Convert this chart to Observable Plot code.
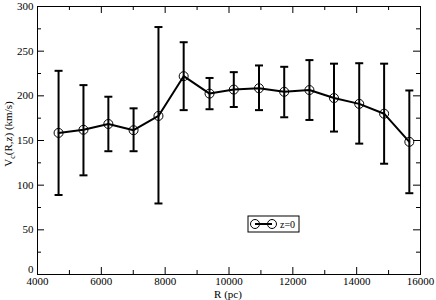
<!DOCTYPE html>
<html><head><meta charset="utf-8">
<script src="https://cdn.jsdelivr.net/npm/d3@7"></script>
<script src="https://cdn.jsdelivr.net/npm/@observablehq/plot@0.6"></script>
<style>body{margin:0;background:#fff} svg text{font-family:"Liberation Serif",serif !important;}</style>
</head><body><div id="chart"></div>
<script>
const R   = [4660, 5440, 6220, 7010, 7790, 8580, 9390, 10150, 10940, 11730, 12520, 13290, 14080, 14860, 15650];
const Vc  = [158.5, 162, 168.5, 161.5, 177.5, 222, 202.5, 207, 208.5, 204.5, 206.5, 197.5, 191, 180, 148.5];
const Vhi = [228, 212, 199, 186, 277, 260, 220, 226.5, 234, 232.5, 240, 236, 236.5, 236, 206];
const Vlo = [89, 111, 138, 138, 79.5, 184, 185, 187.5, 184, 176, 173, 160, 146.5, 124, 91];
const xMajor = [4000, 6000, 8000, 10000, 12000, 14000, 16000];
const xMinor = [5000, 7000, 9000, 11000, 13000, 15000];
const yMajor = [0, 50, 100, 150, 200, 250, 300];
const yMinor = [25, 75, 125, 175, 225, 275];
const seriesLabel = "z=0";
const xLabel = "R (pc)";

const data = R.map((r, i) => ({r, v: Vc[i], hi: Vhi[i], lo: Vlo[i]}));

const W = 436, H = 300, mL = 37, mR = 16, mT = 6, mB = 26;
const fh = H - mT - mB, fw = W - mL - mR;
const capSymbol = {draw(ctx, size) { const w = Math.sqrt(size / Math.PI); ctx.moveTo(-w, 0); ctx.lineTo(w, 0); }};

const chart = Plot.plot({
  width: W, height: H,
  marginLeft: mL, marginRight: mR, marginTop: mT, marginBottom: mB,
  style: {fontFamily: "Liberation Serif", fontSize: "11px", color: "#000", background: "#fff"},
  x: {domain: [4000, 16000]},
  y: {domain: [0, 300]},
  marks: [
    Plot.tickX(xMajor, {x: d => d, insetTop: fh - 7, stroke: "#000"}),
    Plot.tickX(xMajor, {x: d => d, insetBottom: fh - 7, stroke: "#000"}),
    Plot.tickX(xMinor, {x: d => d, insetTop: fh - 4, stroke: "#000"}),
    Plot.tickX(xMinor, {x: d => d, insetBottom: fh - 4, stroke: "#000"}),
    Plot.tickY(yMajor, {y: d => d, insetRight: fw - 7, stroke: "#000"}),
    Plot.tickY(yMajor, {y: d => d, insetLeft: fw - 7, stroke: "#000"}),
    Plot.tickY(yMinor, {y: d => d, insetRight: fw - 4, stroke: "#000"}),
    Plot.tickY(yMinor, {y: d => d, insetLeft: fw - 4, stroke: "#000"}),
    Plot.axisX(xMajor, {tickSize: 0, tickPadding: 3, label: null, fill: "#000", tickFormat: d3.format("d")}),
    Plot.axisY(yMajor.slice(1), {tickSize: 0, tickPadding: 4, label: null, fill: "#000", tickFormat: d3.format("d")}),
    Plot.axisY(yMajor.slice(0, 1), {tickSize: 0, tickPadding: 4, label: null, fill: "#000", tickFormat: d3.format("d"), dy: -5}),
    Plot.frame({stroke: "#000", strokeWidth: 1}),
    Plot.ruleX(data, {x: "r", y1: "lo", y2: "hi", stroke: "#000", strokeWidth: 2}),
    Plot.dot(data, {x: "r", y: "hi", symbol: capSymbol, r: 4, stroke: "#000", strokeWidth: 2}),
    Plot.dot(data, {x: "r", y: "lo", symbol: capSymbol, r: 4, stroke: "#000", strokeWidth: 2}),
    Plot.line(data, {x: "r", y: "v", stroke: "#000", strokeWidth: 2}),
    Plot.dot(data, {x: "r", y: "v", r: 4.5, stroke: "#000", strokeWidth: 1, fill: "none"})
  ]
});
document.getElementById("chart").appendChild(chart);

const svg = d3.select(chart);
const ff = "Liberation Serif";
svg.append("text").attr("x", 228).attr("y", 297.5).attr("text-anchor", "middle")
  .attr("font-family", ff).attr("font-size", 11).attr("fill", "#000").text(xLabel);
const yl = svg.append("text").attr("transform", "translate(12,134) rotate(-90)").attr("text-anchor", "middle")
  .attr("font-family", ff).attr("font-size", 11).attr("fill", "#000");
yl.append("tspan").text("V");
yl.append("tspan").attr("font-size", 8).attr("dy", 3).text("c");
yl.append("tspan").attr("dy", -3).text("(R,z) (km/s)");
const lg = svg.append("g");
lg.append("rect").attr("x", 248).attr("y", 216).attr("width", 51).attr("height", 16)
  .attr("fill", "#fff").attr("stroke", "#000").attr("stroke-width", 1);
lg.append("line").attr("x1", 255).attr("x2", 272).attr("y1", 224).attr("y2", 224).attr("stroke", "#000").attr("stroke-width", 2);
[255, 272].forEach(cx => lg.append("circle").attr("cx", cx).attr("cy", 224).attr("r", 4.5)
  .attr("fill", "none").attr("stroke", "#000").attr("stroke-width", 1));
lg.append("text").attr("x", 280).attr("y", 228).attr("text-anchor", "start").attr("font-family", ff).attr("font-size", 10)
  .attr("fill", "#000").text(seriesLabel);
</script>
</body></html>
